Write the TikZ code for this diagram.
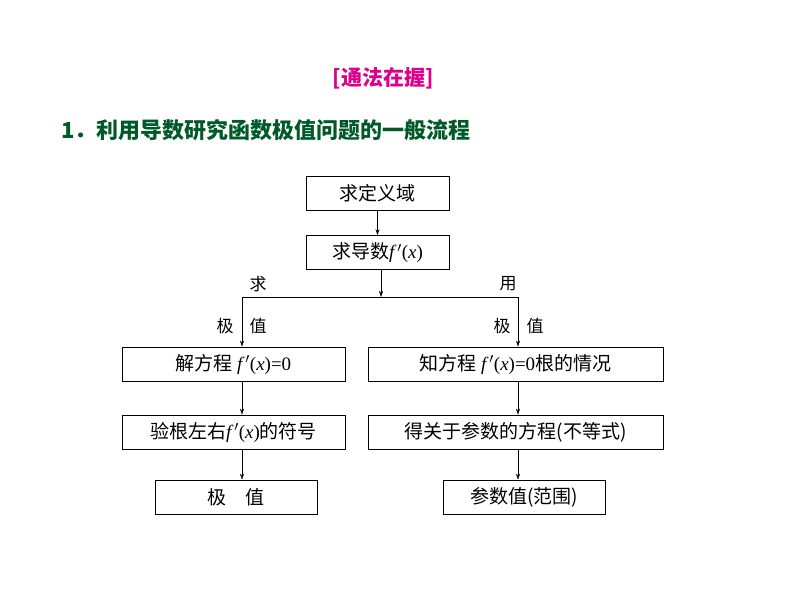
\documentclass[tikz,border=0pt]{standalone}
\usepackage{fontspec}
\setmainfont{Liberation Serif}
\newfontfamily\cjk{Noto Sans CJK SC}
\newfontfamily\lserif{Liberation Serif}
\usetikzlibrary{arrows.meta}
\newcommand{\fx}{{\lserif\itshape f\,\upshape$'$(\itshape x\upshape)}}
\newcommand{\eqz}{{\lserif =0}}
\tikzset{box/.style={draw,thick,minimum height=34pt,inner sep=0pt,font=\fontsize{19}{21}\selectfont\cjk},
 arr/.style={-{Stealth[length=6pt,width=4pt]},thin},
 lab/.style={font=\fontsize{17}{19}\selectfont\cjk}}
\begin{document}
\begin{tikzpicture}[x=1pt,y=-1pt]
\useasboundingbox (0,0) rectangle (794,596);
\node[font=\fontsize{21}{23}\selectfont\cjk\bfseries,text={rgb,255:red,220;green,0;blue,140}] (t) at (383,78) {[通法在握]};
\node[anchor=west,font=\fontsize{22}{24}\selectfont\cjk\bfseries,text={rgb,255:red,0;green,90;blue,40}] (h) at (58,130) {1．利用导数研究函数极值问题的一般流程};
\node[box,minimum width=143pt] (a) at (377.5,193.5) {求定义域};
\node[box,minimum width=143pt] (b) at (377.5,252.5) {求导数\fx};
\node[box,minimum width=223pt] (l1) at (233.5,364) {解方程 \fx\eqz};
\node[box,minimum width=223pt] (l2) at (233.5,432) {验根左右\fx 的符号};
\node[box,minimum width=162pt] (l3) at (236,497) {极\quad 值};
\node[box,minimum width=295pt] (r1) at (515.5,364) {知方程 \fx\eqz 根的情况};
\node[box,minimum width=295pt] (r2) at (515.5,432) {得关于参数的方程(不等式)};
\node[box,minimum width=162pt] (r3) at (524,497) {参数值(范围)};
\coordinate (m) at (381,297);
\coordinate (ml) at (242,297);
\coordinate (mr) at (518,297);
\draw[arr] (a) -- (b);
\draw[arr] (b.south -| m) -- (m);
\draw (ml) -- (mr);
\draw[arr] (ml) -- (ml |- l1.north);
\draw[arr] (mr) -- (mr |- r1.north);
\draw[arr] (l1.south -| ml) -- (l2.north -| ml);
\draw[arr] (l2.south -| ml) -- (l3.north -| ml);
\draw[arr] (r1.south -| mr) -- (r2.north -| mr);
\draw[arr] (r2.south -| mr) -- (r3.north -| mr);
\node[lab] (q1) at (258,284) {求};
\node[lab] (q2) at (225,326) {极};
\node[lab] (q3) at (258,326) {值};
\node[lab] (p1) at (508,284) {用};
\node[lab] (p2) at (502,326) {极};
\node[lab] (p3) at (535,326) {值};
\end{tikzpicture}
\end{document}
